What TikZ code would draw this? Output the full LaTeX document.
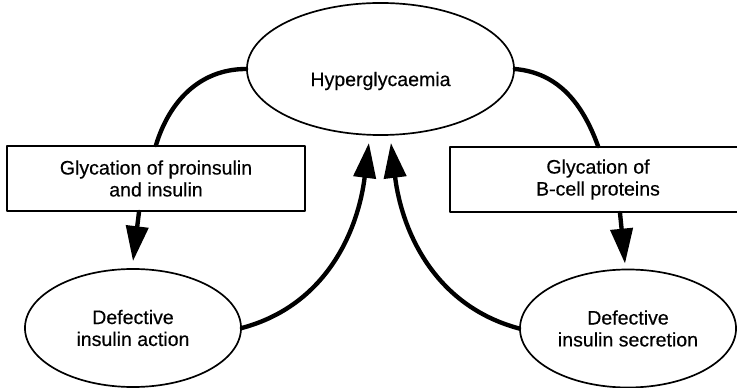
\documentclass[tikz,border=0pt]{standalone}
\usepackage{fontspec}
\setmainfont{Liberation Sans}[FakeBold=0.4]
\usetikzlibrary{arrows.meta}
\usetikzlibrary{shapes.geometric}

\begin{document}
\begin{tikzpicture}[line cap=round,line join=round,>={Triangle[length=0.875cm,width=0.55cm]},x=0.025cm,y=0.025cm,
	font=\fontsize{13.9}{15.6}\selectfont,
	oval/.style={draw,ellipse,line width=1.2pt,inner sep=0pt,align=center,minimum width=5.4cm,minimum height=2.95cm},
	panel/.style={draw,rectangle,line width=1.4pt,inner sep=0pt,align=center,minimum height=1.625cm},
	link/.style={line width=3.1pt}]
		\clip (0,0) rectangle (737,388);
		\node[oval,minimum width=6.675cm,minimum height=3.3cm] (hyper) at (380.5,319) {};
		\node (hypertext) at (380.5,307) {Hyperglycaemia};
		\node[panel,minimum width=7.45cm] (lbox) at (156,209.5) {Glycation of proinsulin\\and insulin};
		\node[panel,minimum width=7.4cm] (rbox) at (598,208.5) {Glycation of\\B-cell proteins};
		\node[oval] (act) at (133,60) {Defective\\insulin action};
		\node[oval] (sec) at (628,59.5) {Defective\\insulin secretion};
		% top ellipse down to the boxes
		\draw [link] (hyper.west) to[out=180,in=73] (lbox.north);
		\draw [link] (hyper.east) to[out=-5,in=110] (rbox.north);
		\draw [link,->] ([xshift=-0.425cm]lbox.south) -- ([yshift=0.175cm]act.north);
		\draw [link,->] ([xshift=0.55cm]rbox.south) -- ([xshift=-0.075cm,yshift=0.125cm]sec.north);
		% back up to hyperglycaemia
		\draw [link,->] (act.east) to[out=15,in=-97] ([xshift=-0.29cm,yshift=-0.175cm]hyper.south);
		\draw [link,->] (sec.west) to[out=165,in=-83] ([xshift=0.26cm,yshift=-0.175cm]hyper.south);
\end{tikzpicture}
\end{document}
